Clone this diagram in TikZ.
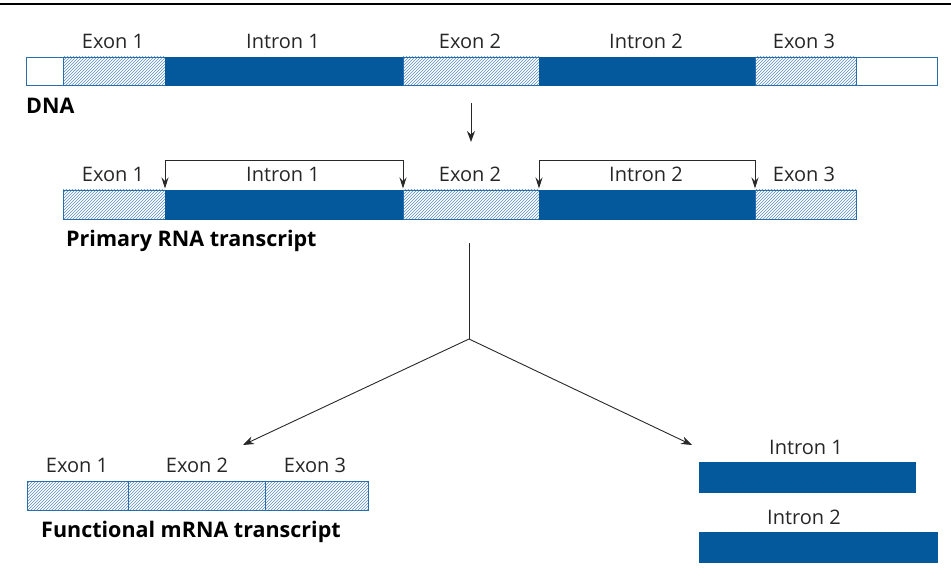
\documentclass[tikz,border=0pt]{standalone}
\usepackage{fontspec}
\setmainfont{Open Sans}
\usetikzlibrary{patterns,arrows.meta}
\definecolor{intronblue}{RGB}{3,89,155}
\definecolor{edgeblue}{RGB}{40,110,175}
\definecolor{hatchblue}{RGB}{90,140,195}
\definecolor{linegray}{RGB}{40,40,40}
\tikzset{
  seg/.style={draw=edgeblue, line width=0.8pt, inner sep=0pt, outer sep=0pt, anchor=west},
  exonseg/.style={seg, pattern=north east lines, pattern color=hatchblue},
  intronseg/.style={seg, fill=intronblue, draw=intronblue},
  blankseg/.style={seg, fill=white},
  lbl/.style={font=\fontsize{20}{24}\selectfont, text=black!85, inner sep=0pt},
  title/.style={font=\fontsize{21.5}{25}\selectfont\bfseries, text=black, inner sep=0pt, anchor=west},
  arr/.style={draw=linegray, line width=0.9pt, -{Stealth[length=11pt,width=8pt]}},
  brk/.style={draw=linegray, line width=0.9pt, {Stealth[length=11pt,width=7pt]}-{Stealth[length=11pt,width=7pt]}},
}
\begin{document}
\begin{tikzpicture}[x=1pt,y=-1pt]
\useasboundingbox (0,0) rectangle (951,580);
% rule across the top
\draw[line width=1.8pt] (0,4) -- (951,4);

% ---- DNA ----
\node[blankseg,  minimum width=37pt,  minimum height=28pt] (d0) at (26,71) {};
\node[exonseg,   minimum width=102pt, minimum height=28pt] (d1) at (63,71) {};
\node[intronseg, minimum width=238pt, minimum height=28pt] (d2) at (165,71) {};
\node[exonseg,   minimum width=136pt, minimum height=28pt] (d3) at (403,71) {};
\node[intronseg, minimum width=216pt, minimum height=28pt] (d4) at (539,71) {};
\node[exonseg,   minimum width=101pt, minimum height=28pt] (d5) at (755,71) {};
\node[blankseg,  minimum width=81pt,  minimum height=28pt] (d6) at (856,71) {};
\node[lbl] (dl1) at (113,41) {Exon 1};
\node[lbl] (dl2) at (283,41) {Intron 1};
\node[lbl] (dl3) at (470,41) {Exon 2};
\node[lbl] (dl4) at (646,41) {Intron 2};
\node[lbl] (dl5) at (804,41) {Exon 3};
\node[title] (dnalbl) at (26,106) {DNA};

% transcription arrow
\coordinate (tA) at (471,103);
\coordinate (tB) at (471,142);
\draw[arr] (tA) -- (tB);

% ---- primary transcript ----
\node[exonseg,   minimum width=102pt, minimum height=29pt] (r1) at (63,204.5) {};
\node[intronseg, minimum width=238pt, minimum height=29pt] (r2) at (165,204.5) {};
\node[exonseg,   minimum width=136pt, minimum height=29pt] (r3) at (403,204.5) {};
\node[intronseg, minimum width=216pt, minimum height=29pt] (r4) at (539,204.5) {};
\node[exonseg,   minimum width=101pt, minimum height=29pt] (r5) at (755,204.5) {};
\node[lbl] (rl1) at (113,174) {Exon 1};
\node[lbl] (rl2) at (283,174) {Intron 1};
\node[lbl] (rl3) at (470,174) {Exon 2};
\node[lbl] (rl4) at (646,174) {Intron 2};
\node[lbl] (rl5) at (804,174) {Exon 3};
\node[title] (rnalbl) at (66,241) {Primary RNA transcript};

% splice-site brackets
\draw[brk] ([yshift=1.5pt]r2.north west) -- ++(0,-28) -| ([yshift=1.5pt]r2.north east);
\draw[brk] ([yshift=1.5pt]r4.north west) -- ++(0,-28) -| ([yshift=1.5pt]r4.north east);

% splitting into products
\coordinate (sTop) at (469,243);
\coordinate (split) at (469,339);
\coordinate (toMrna) at (243,445);
\coordinate (toIntrons) at (692,445);
\draw[draw=linegray, line width=0.9pt] (sTop) -- (split);
\draw[arr] (split) -- (toMrna);
\draw[arr] (split) -- (toIntrons);

% ---- mature mRNA ----
\node[exonseg, minimum width=101pt, minimum height=29pt] (m1) at (27,495.5) {};
\node[exonseg, minimum width=137pt, minimum height=29pt] (m2) at (128,495.5) {};
\node[exonseg, minimum width=103pt, minimum height=29pt] (m3) at (265,495.5) {};
\node[lbl] (ml1) at (77,465) {Exon 1};
\node[lbl] (ml2) at (197,465) {Exon 2};
\node[lbl] (ml3) at (315,465) {Exon 3};
\node[title] (mrnalbl) at (41,532) {Functional mRNA transcript};

% ---- excised introns ----
\node[intronseg, minimum width=216pt, minimum height=30pt] (i1) at (699,477) {};
\node[intronseg, minimum width=238pt, minimum height=30pt] (i2) at (699,547) {};
\node[lbl] (il1) at (806,447) {Intron 1};
\node[lbl] (il2) at (804,517) {Intron 2};
\end{tikzpicture}
\end{document}
